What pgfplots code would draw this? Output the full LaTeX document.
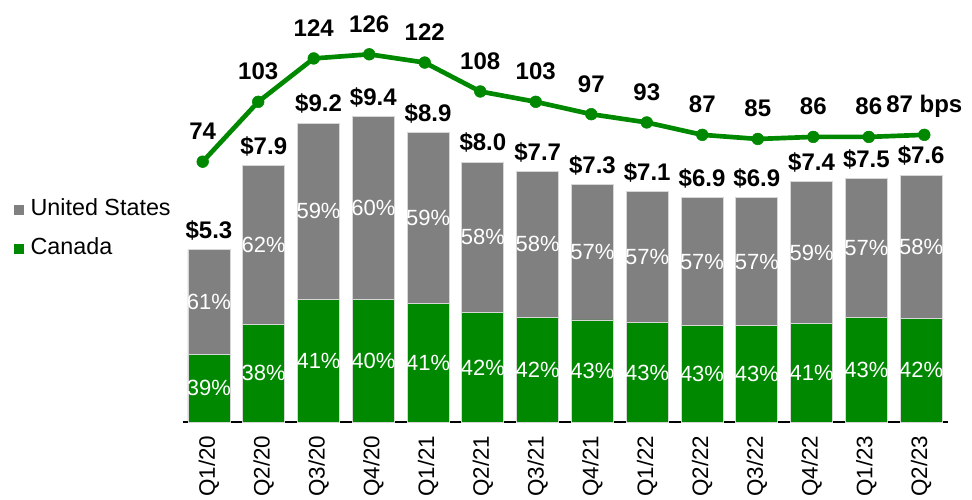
\documentclass[border=0pt]{standalone}
\usepackage{fontspec}
\setmainfont{Liberation Sans}
\usepackage{pgfplots}
\usepackage{pgfplotstable}
\pgfplotsset{compat=1.18}
\definecolor{CanGreen}{RGB}{0,136,0}
\definecolor{USGray} {RGB}{128,128,128}
\definecolor{EdgeGray}{RGB}{215,215,215}

\newcommand\boldlab{\fontsize{18}{21}\selectfont\bfseries}
\newcommand\pctlab{\fontsize{16.5}{19}\selectfont}
\newcommand\ticklab{\fontsize{16.8}{20}\selectfont}
\newcommand\leglab{\fontsize{17.5}{20}\selectfont}

% total ($B), Canada / US share (%), Canada / US amount
\pgfplotstableread{
x total canp usp can  us
0 5.3   39   61  2.07 3.23
1 7.9   38   62  3.00 4.90
2 9.2   41   59  3.77 5.43
3 9.4   40   60  3.76 5.64
4 8.9   41   59  3.65 5.25
5 8.0   42   58  3.36 4.64
6 7.7   42   58  3.23 4.47
7 7.3   43   57  3.14 4.16
8 7.1   43   57  3.05 4.05
9 6.9   43   57  2.97 3.93
10 6.9  43   57  2.97 3.93
11 7.4  41   59  3.03 4.37
12 7.5  43   57  3.23 4.27
13 7.6  42   58  3.19 4.41
}\loans

\begin{document}
\begin{tikzpicture}
\pgfplotsset{
  base/.style={
    at={(0,0)}, anchor=south west,
    scale only axis, width=573.75pt, height=316.5pt,
    clip=false,
    /pgf/number format/assume math mode=true,
  },
}

% stacked bars
\begin{axis}[
    base,
    ybar stacked,
    bar width=31.5pt,
    xmin=-0.474, xmax=13.49,
    ymin=0, ymax=12.985,
    axis x line*=bottom,
    axis y line=none,
    x axis line style={line width=1.2pt, black},
    ytick=\empty,
    xtick={0,...,13},
    xticklabels={Q1/20,Q2/20,Q3/20,Q4/20,Q1/21,Q2/21,Q3/21,Q4/21,Q1/22,Q2/22,Q3/22,Q4/22,Q1/23,Q2/23},
    major tick length=0pt,
    xticklabel style={rotate=90, anchor=east, inner xsep=10pt, inner ysep=0pt, font=\ticklab},
    reverse legend,
    legend style={
        at={(-0.221,0.533)}, anchor=north west,
        draw=none, fill=none, inner sep=0pt, outer sep=0pt,
        font=\leglab, row sep=10.25pt,
        nodes={inner sep=2pt, text height=12pt, text depth=3pt},
        /tikz/every odd column/.append style={column sep=3pt},
    },
    legend cell align=left,
    legend image code/.code={
        \fill[#1, draw=none] (0pt,-3.75pt) rectangle (7.5pt,3.75pt);
    },
]
\addplot[fill=CanGreen, draw=EdgeGray, line width=0.6pt] table[x=x, y=can]{\loans};
\addlegendentry{Canada}
\addplot[fill=USGray, draw=EdgeGray, line width=0.6pt] table[x=x, y=us]{\loans};
\addlegendentry{United States}
\end{axis}

% labels on and above the bars
\begin{axis}[
    base, hide axis,
    xmin=-0.474, xmax=13.49,
    ymin=0, ymax=12.985,
]
\addplot[draw=none, mark=none, point meta=\thisrow{canp},
    nodes near coords={\pgfmathprintnumber{\pgfplotspointmeta}\%},
    every node near coord/.append style={anchor=center, text=white, font=\pctlab, inner sep=0pt}]
    table[x=x, y expr=\thisrow{can}/2]{\loans};
\addplot[draw=none, mark=none, point meta=\thisrow{usp},
    nodes near coords={\pgfmathprintnumber{\pgfplotspointmeta}\%},
    every node near coord/.append style={anchor=center, text=white, font=\pctlab, inner sep=0pt}]
    table[x=x, y expr=\thisrow{can}+\thisrow{us}/2]{\loans};
\addplot[draw=none, mark=none, point meta=\thisrow{total},
    nodes near coords={\$\pgfmathprintnumber[fixed,fixed zerofill,precision=1]{\pgfplotspointmeta}},
    every node near coord/.append style={anchor=base, yshift=8.3pt, text=black, font=\boldlab, inner sep=0pt}]
    table[x=x, y=total]{\loans};
\end{axis}

% net interest margin line (bps)
\begin{axis}[
    base, hide axis,
    xmin=-0.355, xmax=13.427,
    ymin=-52.06, ymax=152.3,
]
\addplot[CanGreen, line width=3.5pt, mark=*, mark size=4.4pt,
    mark options={solid, line width=0.4pt, fill=CanGreen},
    point meta=explicit symbolic, nodes near coords,
    every node near coord/.append style={anchor=base, yshift=16.5pt, text=black, font=\boldlab, inner sep=0pt}]
coordinates {
    (0,74) [74]
    (1,103) [103]
    (2,124) [124]
    (3,126) [126]
    (4,122) [122]
    (5,108) [108]
    (6,103) [103]
    (7,97) [97]
    (8,93) [93]
    (9,87) [87]
    (10,85) [85]
    (11,86) [86]
    (12,86) [86]
    (13,87) [87 bps]
};
\end{axis}

\pgfresetboundingbox
\useasboundingbox (-137.25pt,-58.5pt) rectangle (591.75pt,316.5pt);
\end{tikzpicture}
\end{document}
